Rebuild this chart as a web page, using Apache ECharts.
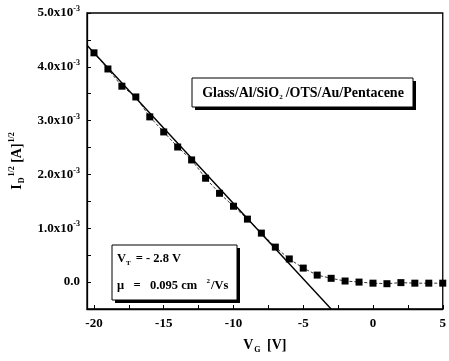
<!DOCTYPE html>
<html>
<head>
<meta charset="utf-8">
<script src="https://cdn.jsdelivr.net/npm/echarts@6/dist/echarts.min.js"></script>
<style>
html,body{margin:0;padding:0;background:#fff;}
#c{width:449px;height:361px;}
</style>
</head>
<body>
<div id="c"></div>
<script>
// Gate voltage V_G [V]
var vg = [-20,-19,-18,-17,-16,-15,-14,-13,-12,-11,-10,-9,-8,-7,-6,-5,-4,-3,-2,-1,0,1,2,3,4,5];
// sqrt(I_D) in units of 1e-3 A^1/2
var sqrtId = [4.26,3.96,3.64,3.44,3.07,2.79,2.51,2.27,1.93,1.65,1.41,1.17,0.91,0.65,0.43,0.26,0.13,0.07,0.02,0.0,-0.02,-0.03,-0.01,-0.02,-0.02,-0.02];
// linear fit line endpoints [V_G, sqrt(I_D) x1e-3]
var fitX = [-20.5, -3.0];
var fitY = [4.4, -0.5];
// axis ticks
var xLabelValues = [-20,-15,-10,-5,0,5];
var xTickValues = [-20,-17.5,-15,-12.5,-10,-7.5,-5,-2.5,0,2.5,5];
var yLabelValues = [0,1,2,3,4,5];
var yTickValues = [-0.5,0,0.5,1,1.5,2,2.5,3,3.5,4,4.5,5];

var serif = '"Liberation Serif","DejaVu Serif",serif';
var chart = echarts.init(document.getElementById('c'));

var dataPts = vg.map(function(v,i){return [v, sqrtId[i]];});
var fitPts = fitX.map(function(v,i){return [v, fitY[i]];});

chart.setOption({
  animation:false,
  backgroundColor:'#fff',
  grid:{left:86, top:13, right:2, bottom:52, show:true, borderColor:'#000', borderWidth:1.3, backgroundColor:'transparent'},
  xAxis:{
    type:'value', min:-20.5, max:5,
    axisLine:{show:true, onZero:false, lineStyle:{color:'#000', width:1.3}},
    axisTick:{show:true, inside:true, length:4, customValues:xTickValues, lineStyle:{color:'#000'}},
    axisLabel:{customValues:xLabelValues, color:'#000', fontFamily:serif, fontWeight:'bold', fontSize:13, margin:8},
    splitLine:{show:false},
    name:'{m|V}{s|G}{m| [V]}', nameLocation:'middle', nameGap:27,
    nameTextStyle:{rich:{
      m:{fontFamily:serif, fontWeight:'bold', fontSize:14, color:'#000', lineHeight:18},
      s:{fontFamily:serif, fontWeight:'bold', fontSize:8, color:'#000', verticalAlign:'bottom', lineHeight:18, padding:[6,3,0,1]}
    }}
  },
  yAxis:{
    type:'value', min:-0.5, max:5,
    axisLine:{show:true, onZero:false, lineStyle:{color:'#000', width:1.3}},
    axisTick:{show:true, inside:true, length:4, customValues:yTickValues, lineStyle:{color:'#000'}},
    axisLabel:{customValues:yLabelValues, margin:7,
      formatter:function(v){ if(v===0) return '{m|0.0}'; return '{m|'+v.toFixed(1)+'x10}{s|-3}'; },
      rich:{
        m:{fontFamily:serif, fontWeight:'bold', fontSize:13, color:'#000', lineHeight:16},
        s:{fontFamily:serif, fontWeight:'bold', fontSize:8, color:'#000', verticalAlign:'top', lineHeight:16, padding:[0,0,8,0]}
      }
    },
    splitLine:{show:false},
    name:'{m|I}{s|D}{p|1/2}{m| [A]}{p|1/2}', nameLocation:'middle', nameGap:61, nameRotate:90,
    nameTextStyle:{rich:{
      m:{fontFamily:serif, fontWeight:'bold', fontSize:14, color:'#000', lineHeight:18},
      s:{fontFamily:serif, fontWeight:'bold', fontSize:8, color:'#000', verticalAlign:'bottom', lineHeight:18, padding:[6,0,0,1]},
      p:{fontFamily:serif, fontWeight:'bold', fontSize:8, color:'#000', verticalAlign:'top', lineHeight:18, padding:[0,0,8,1]}
    }}
  },
  series:[
    {type:'line', data:fitPts, showSymbol:false, symbol:'none', clip:true,
     lineStyle:{color:'#000', width:1.4}, z:2},
    {type:'line', data:dataPts, symbol:'rect', symbolSize:7, clip:false,
     itemStyle:{color:'#000'}, lineStyle:{color:'#000', width:0.8, type:[3,2]}, z:3}
  ],
  graphic:[
    {type:'rect', shape:{x:195, y:81, width:221, height:29}, style:{fill:'#000'}, z:10},
    {type:'rect', shape:{x:192, y:78, width:221, height:29}, style:{fill:'#fff', stroke:'#000', lineWidth:1}, z:11},
    {type:'text', x:303, y:93, z:12, style:{
      text:'{m|Glass/Al/SiO}{s|2}{m|/OTS/Au/Pentacene}', align:'center', verticalAlign:'middle',
      rich:{
        m:{fontFamily:serif, fontWeight:'bold', fontSize:14, fill:'#000', lineHeight:16},
        s:{fontFamily:serif, fontWeight:'bold', fontSize:7, fill:'#000', verticalAlign:'bottom', lineHeight:16, padding:[5,3,0,0]}
      }}},
    {type:'rect', shape:{x:115, y:248, width:125, height:55}, style:{fill:'#000'}, z:10},
    {type:'rect', shape:{x:112, y:245, width:125, height:55}, style:{fill:'#fff', stroke:'#000', lineWidth:1}, z:11},
    {type:'text', x:117, y:259, z:12, style:{
      text:'{m|V}{s|T}{m| = - 2.8 V}', align:'left', verticalAlign:'middle',
      rich:{
        m:{fontFamily:serif, fontWeight:'bold', fontSize:12.5, fill:'#000', lineHeight:16},
        s:{fontFamily:serif, fontWeight:'bold', fontSize:7, fill:'#000', verticalAlign:'bottom', lineHeight:16, padding:[5,2,0,0]}
      }}},
    {type:'text', x:117, y:286, z:12, style:{
      text:'{m|\u03bc   =   0.095 cm  }{p|2}{m|/Vs}', align:'left', verticalAlign:'middle',
      rich:{
        m:{fontFamily:serif, fontWeight:'bold', fontSize:12.5, fill:'#000', lineHeight:16},
        p:{fontFamily:serif, fontWeight:'bold', fontSize:7, fill:'#000', verticalAlign:'top', lineHeight:16, padding:[0,1,6,3]}
      }}}
  ]
});
</script>
</body>
</html>
